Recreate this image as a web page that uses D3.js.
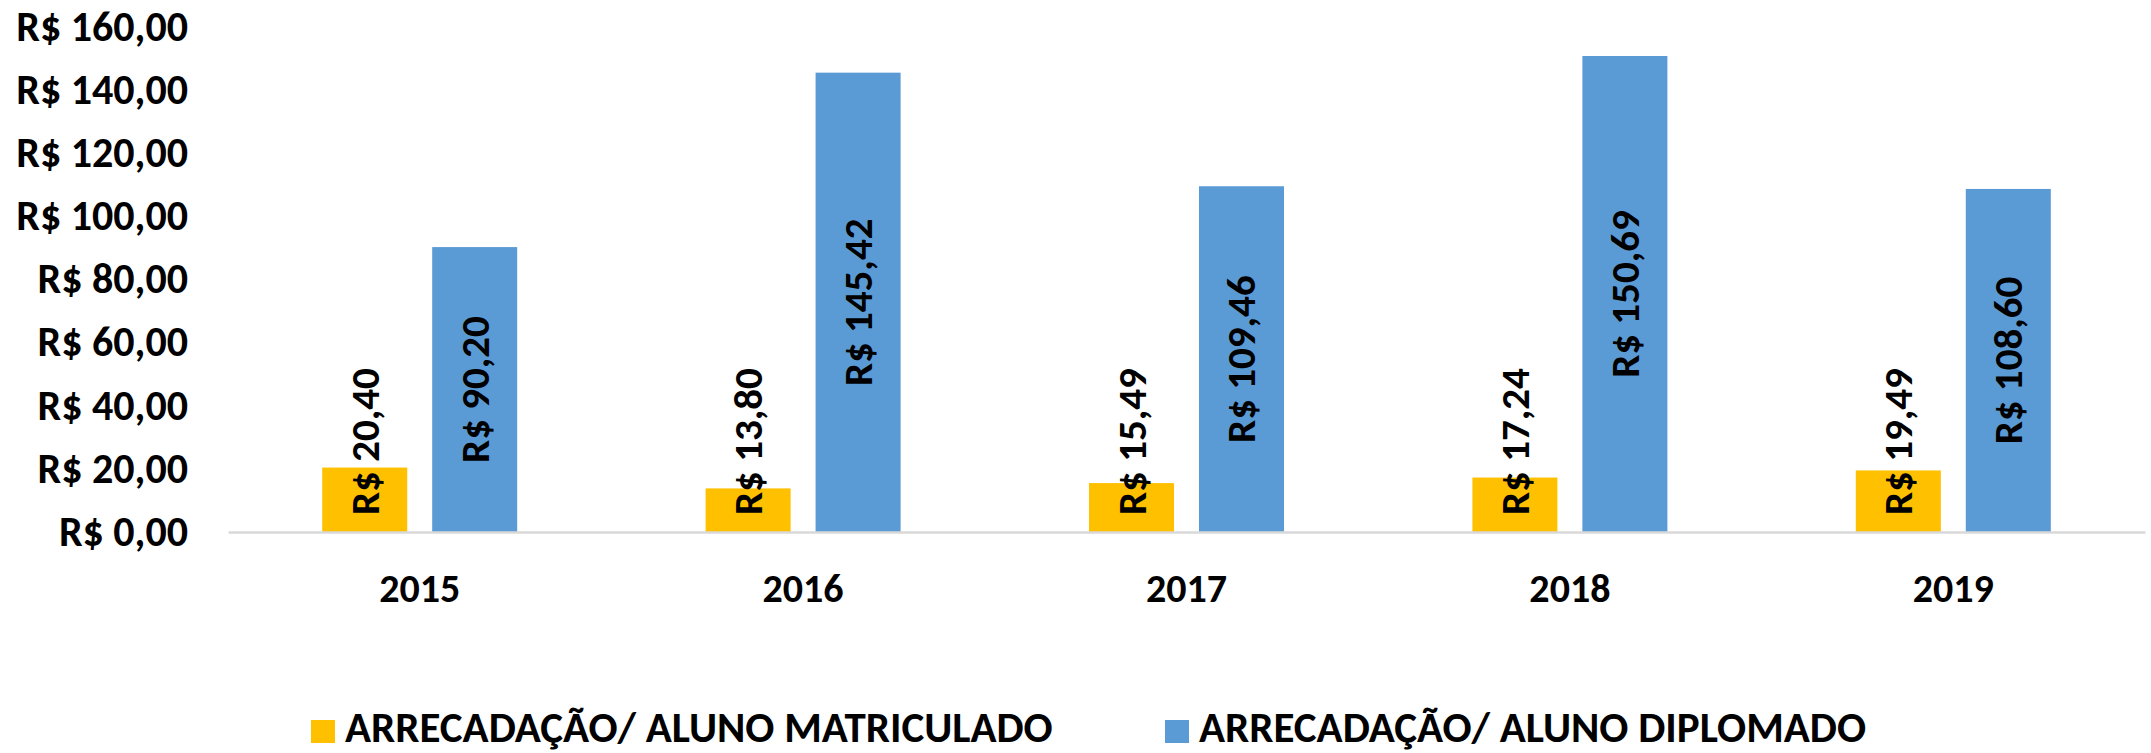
<!DOCTYPE html>
<html lang="pt">
<head>
  <meta charset="UTF-8">
  <script src="https://d3js.org/d3.v7.min.js"></script>
  <style>
    body { margin: 0; background: #fff; }
    svg text { font-family: Carlito, Lato, sans-serif; font-weight: bold; fill: #000; }
  </style>
  <title>Arrecadação por aluno</title>
</head>
<body>
  <svg id="chart" width="2151" height="753"></svg>
  <script>
    var years = ['2015', '2016', '2017', '2018', '2019'];
    var matriculado = [20.40, 13.80, 15.49, 17.24, 19.49];
    var diplomado = [90.20, 145.42, 109.46, 150.69, 108.60];
    var seriesNames = ['ARRECADAÇÃO/ ALUNO MATRICULADO', 'ARRECADAÇÃO/ ALUNO DIPLOMADO'];
    var seriesColors = ['#ffc000', '#5b9bd5'];
    var yTicks = [0, 20, 40, 60, 80, 100, 120, 140, 160];

    var fmt = d => 'R$ ' + d.toFixed(2).replace('.', ',');

    var svg = d3.select('#chart');
    var baseY = 532, topY = 26.6, leftX = 228, rightX = 2145;

    var x0 = d3.scaleBand().domain(years).range([leftX, rightX]).padding(0);
    var x1 = d3.scaleBand().domain([0, 1]).range([0, 195]).paddingInner(0.227).paddingOuter(0);
    var y = d3.scaleLinear().domain([0, 160]).range([baseY, topY]);

    var rows = years.map((yr, i) => ({ year: yr, vals: [matriculado[i], diplomado[i]] }));

    // y axis, labels only
    var yAx = svg.append('g').attr('transform', 'translate(' + leftX + ',0)')
      .call(d3.axisLeft(y).tickValues(yTicks).tickFormat(fmt).tickSize(0).tickPadding(40));
    yAx.select('.domain').remove();
    yAx.attr('font-family', null).attr('font-size', null);
    yAx.selectAll('text').style('font-size', '42px');

    // bars
    var groups = svg.selectAll('g.grp').data(rows).enter().append('g')
      .attr('class', 'grp')
      .attr('transform', d => 'translate(' + (x0(d.year) + x0.bandwidth() / 2 - 97.5) + ',0)');

    groups.selectAll('rect').data(d => d.vals).enter().append('rect')
      .attr('x', (v, j) => x1(j))
      .attr('width', x1.bandwidth())
      .attr('y', v => y(v))
      .attr('height', v => baseY - y(v))
      .attr('fill', (v, j) => seriesColors[j]);

    // x axis
    var xAx = svg.append('g').attr('transform', 'translate(0,' + baseY + ')')
      .call(d3.axisBottom(x0).tickSize(0).tickPadding(42));
    xAx.attr('font-family', null).attr('font-size', null);
    xAx.select('.domain').attr('stroke', '#d9d9d9').attr('stroke-width', 2.5);
    xAx.selectAll('text').style('font-size', '40px');

    // data labels
    groups.selectAll('text.lbl').data(d => d.vals).enter().append('text')
      .attr('class', 'lbl')
      .attr('transform', (v, j) => {
        var cx = x1(j) + x1.bandwidth() / 2;
        var cy = j === 0 ? baseY - 17 : (y(v) + baseY) / 2;
        return 'translate(' + cx + ',' + cy + ') rotate(-90)';
      })
      .attr('text-anchor', (v, j) => j === 0 ? 'start' : 'middle')
      .attr('dominant-baseline', 'central')
      .style('font-size', '41px')
      .text(fmt);

    // legend
    var legX = [311, 1165];
    var leg = svg.selectAll('g.leg').data(seriesNames).enter().append('g')
      .attr('class', 'leg')
      .attr('transform', (d, i) => 'translate(' + legX[i] + ',720)');
    leg.append('rect').attr('width', 24).attr('height', 23).attr('fill', (d, i) => seriesColors[i]);
    leg.append('text').attr('x', 34).attr('y', 22).style('font-size', '43px').text(d => d);
  </script>
</body>
</html>
